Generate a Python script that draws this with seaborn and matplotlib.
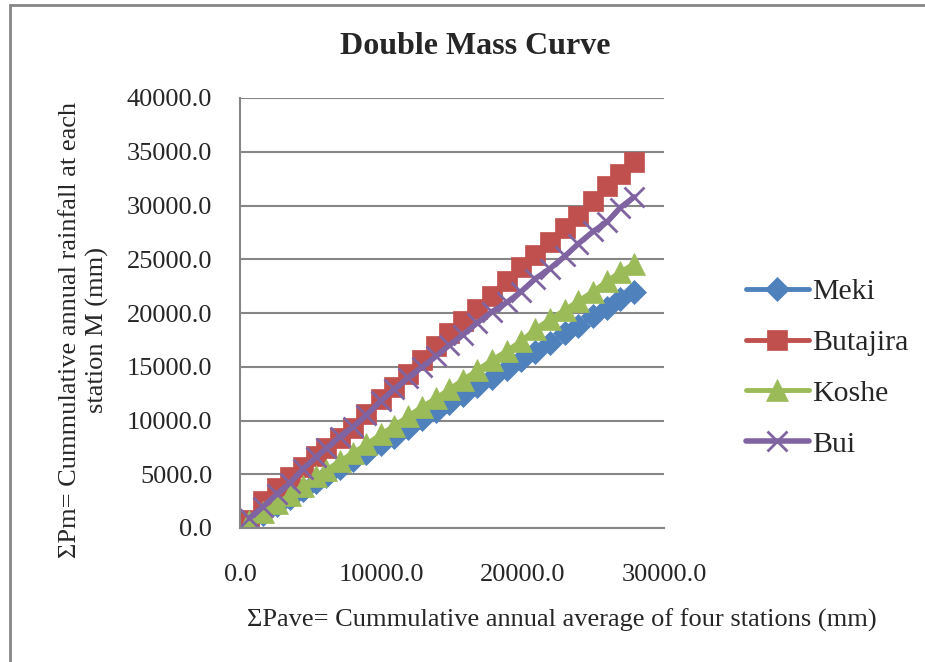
import matplotlib
matplotlib.use("Agg")
import matplotlib.pyplot as plt
import seaborn as sns
import pandas as pd
from matplotlib.patches import Rectangle

sns.set_theme(style="white")
plt.rcParams['font.family'] = ['Liberation Serif', 'DejaVu Serif']

cum_avg = [650, 1650, 2650, 3550, 4450, 5400, 6100, 7050, 8000, 8950, 9950, 10900, 11900, 12900,
           13900, 14800, 15800, 16800, 17800, 18900, 19900, 20900, 21900, 23000, 23900, 25000,
           26000, 26900, 27900]
meki = [600, 1300, 2100, 2800, 3500, 4300, 4800, 5600, 6300, 7000, 7800, 8500, 9300, 10100,
        10900, 11600, 12400, 13200, 14000, 14800, 15600, 16400, 17200, 18100, 18800, 19700,
        20500, 21300, 22000]
butajira = [700, 2500, 3700, 4700, 5700, 6700, 7400, 8400, 9300, 10600, 12000, 13100, 14300,
            15600, 16900, 18100, 19300, 20400, 21600, 23000, 24300, 25400, 26600, 27900, 29000,
            30400, 31800, 32900, 34000]
koshe = [650, 1500, 2300, 3100, 3900, 4800, 5400, 6200, 7000, 7800, 8700, 9500, 10400, 11300,
         12100, 12900, 13800, 14700, 15600, 16500, 17400, 18500, 19400, 20300, 21100, 22000,
         23000, 23800, 24600]
bui = [900, 2000, 3200, 4200, 5500, 6600, 7400, 8500, 9400, 10500, 11800, 12900, 14000, 15000,
       16000, 17000, 18000, 19100, 20100, 21000, 22000, 23200, 24100, 25300, 26400, 27600,
       28500, 29800, 30800]

series = [("Meki", meki, "#4F81BD", "D", 12),
          ("Butajira", butajira, "#C0504D", "s", 15),
          ("Koshe", koshe, "#9BBB59", "^", 16),
          ("Bui", bui, "#8064A2", "x", 15)]

W, H = 925, 662
fig = plt.figure(figsize=(W / 100, H / 100), dpi=100)
ax = fig.add_axes([240 / W, 1 - 528 / H, (664 - 240) / W, (528 - 98) / H])

for name, vals, col, mk, ms in series:
    df = pd.DataFrame({"x": cum_avg, "y": vals})
    sns.lineplot(data=df, x="x", y="y", ax=ax, color=col, marker=mk, markersize=ms,
                 markeredgecolor=col, markeredgewidth=2 if mk == "x" else 0.5,
                 linewidth=4 if name == "Bui" else 3.5, label=name, sort=False)

ax.set_xlim(0, 30000)
ax.set_ylim(0, 40000)
ax.set_xticks([0, 10000, 20000, 30000])
ax.set_yticks(range(0, 40001, 5000))
ax.set_xticklabels([f"{v:.1f}" for v in [0, 10000, 20000, 30000]])
ax.set_yticklabels([f"{v:.1f}" for v in range(0, 40001, 5000)])
ax.tick_params(axis='both', labelsize=19, length=0)
ax.tick_params(axis='x', pad=26)
ax.tick_params(axis='y', pad=20)
ax.yaxis.grid(True, color="#868686", linewidth=1.5)
ax.xaxis.grid(False)
for s in ["top", "right"]:
    ax.spines[s].set_visible(False)
for s in ["left", "bottom"]:
    ax.spines[s].set_color("#868686")
    ax.spines[s].set_linewidth(1.5)
ax.set_xlabel("")
ax.set_ylabel("")

fig.text(475 / W, 1 - 47 / H, "Double Mass Curve", ha="center", va="center",
         fontsize=23, fontweight="bold")
fig.text(562 / W, 1 - 620 / H, "ΣPave= Cummulative annual average of four stations (mm)",
         ha="center", va="center", fontsize=19)
fig.text(84 / W, 1 - 330 / H, "ΣPm= Cummulative annual rainfall at each\nstation M (mm)",
         ha="center", va="center", rotation=90, fontsize=19, multialignment="center",
         linespacing=1.3)

leg = ax.legend(loc="center left", bbox_to_anchor=(746 / W, 1 - 368 / H),
                bbox_transform=fig.transFigure, frameon=False, fontsize=21.5,
                handlelength=2.1, handletextpad=0.1, labelspacing=0.8, borderaxespad=0,
                borderpad=0)

fig.patches.append(Rectangle((10 / W, -0.1), 1.2, 1 - 5 / H + 0.1, transform=fig.transFigure,
                             fill=False, edgecolor="#868686", linewidth=2))

fig.savefig("out.png", dpi=100)
